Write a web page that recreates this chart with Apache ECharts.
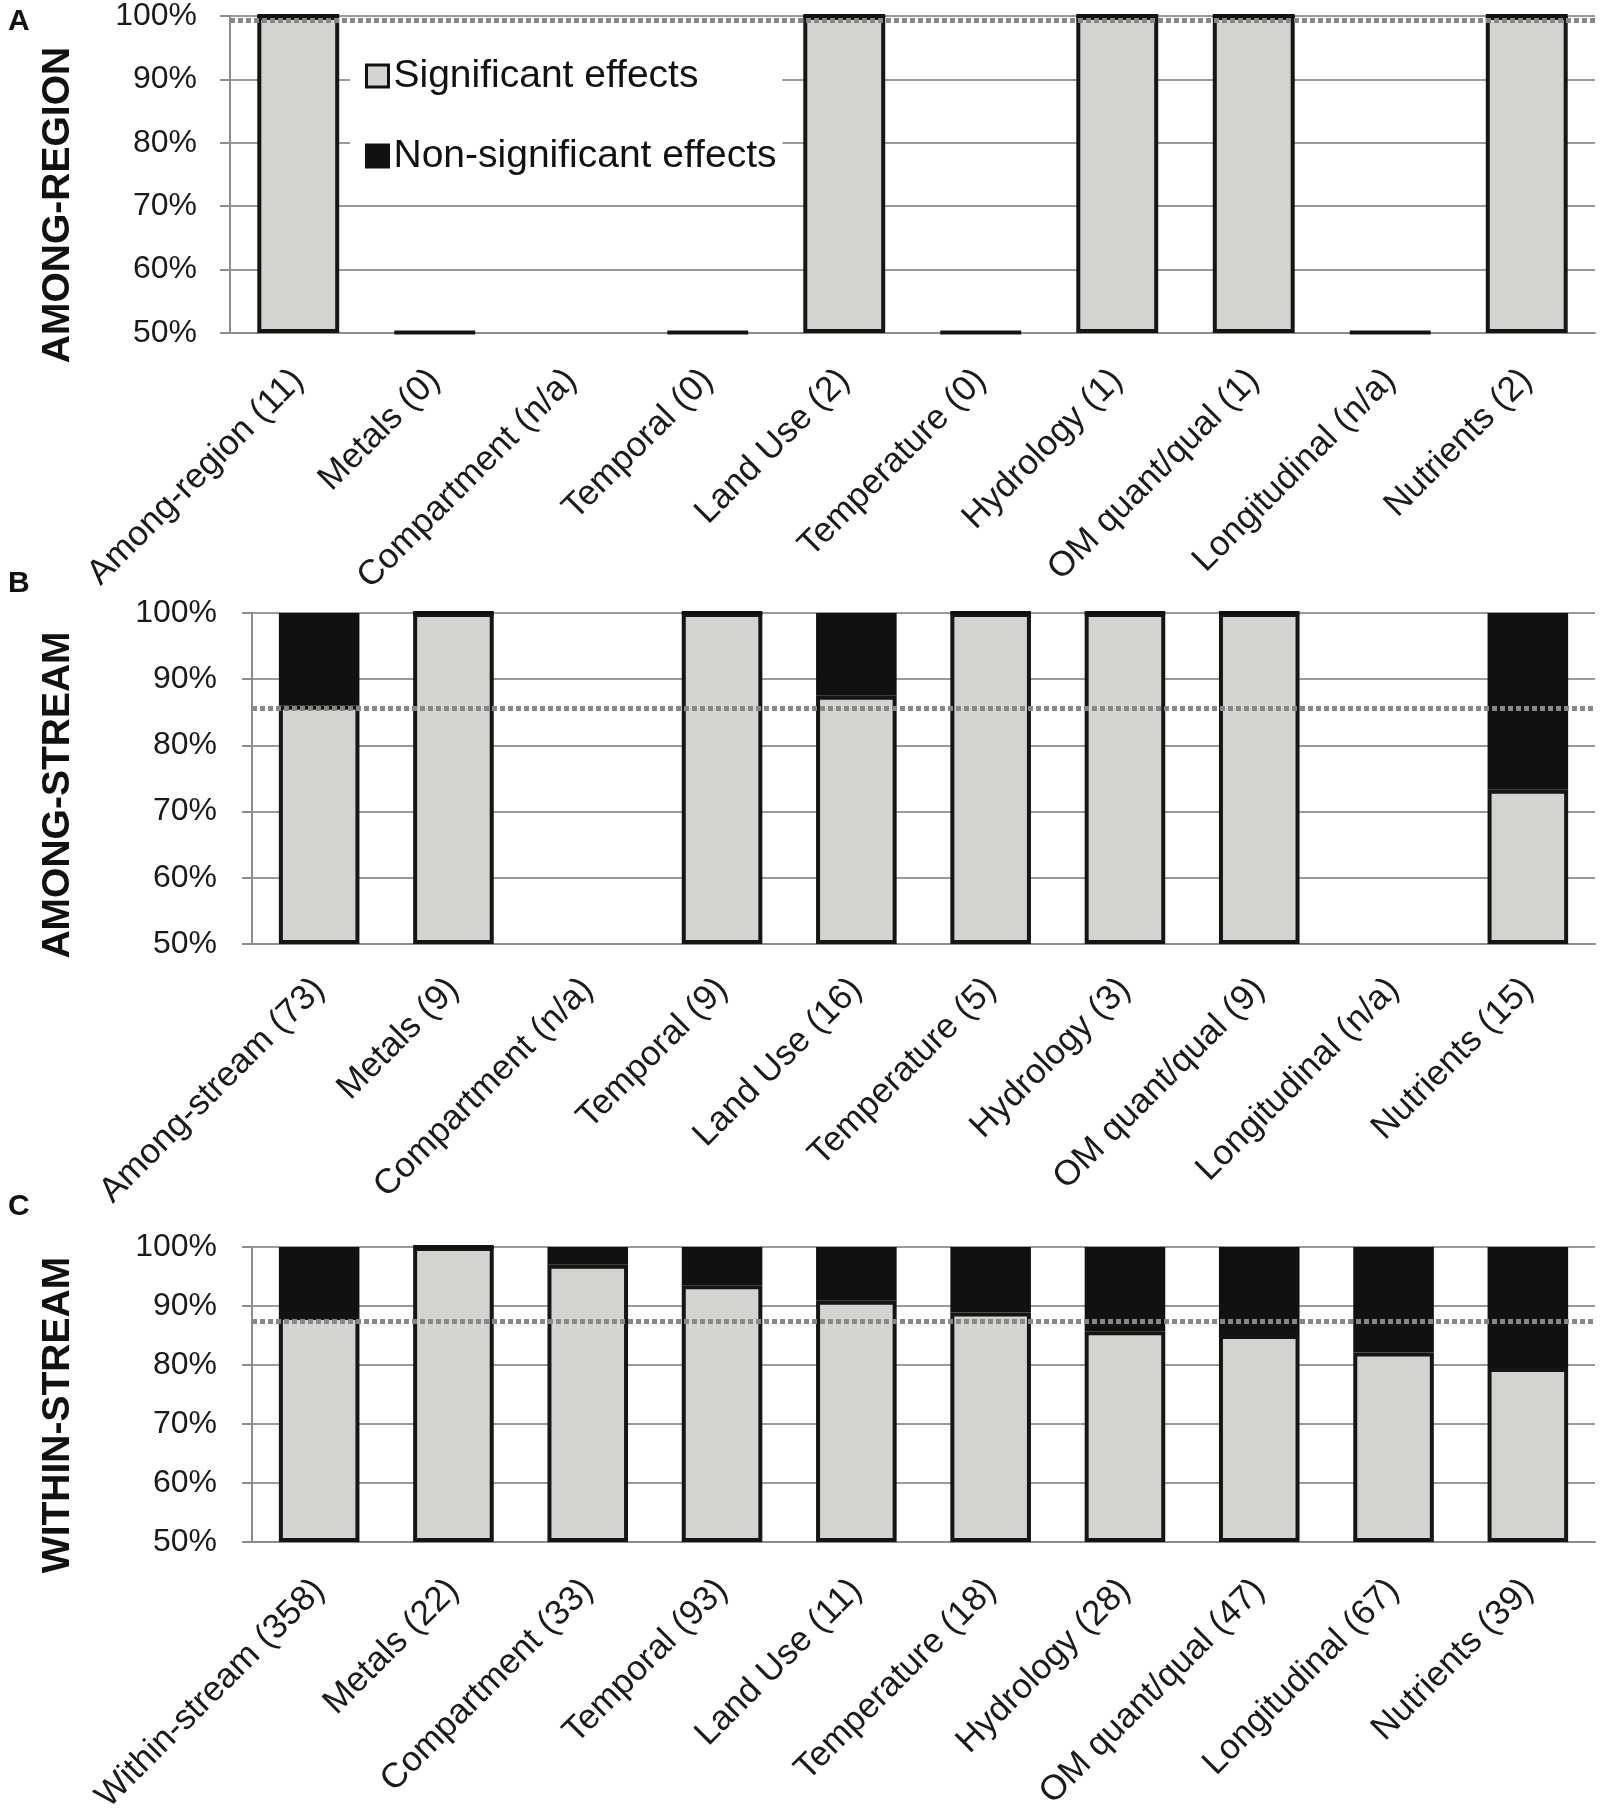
<!DOCTYPE html>
<html>
<head>
<meta charset="utf-8">
<script src="https://cdn.jsdelivr.net/npm/echarts@6/dist/echarts.min.js"></script>
<style>
  html, body { margin: 0; padding: 0; background: #fff; }
  #chart { width: 1600px; height: 1817px; }
</style>
</head>
<body>
<div id="chart"></div>
<script>
// panel A: among-region
var catsA = ['Among-region (11)', 'Metals (0)', 'Compartment (n/a)', 'Temporal (0)', 'Land Use (2)',
    'Temperature (0)', 'Hydrology (1)', 'OM quant/qual (1)', 'Longitudinal (n/a)', 'Nutrients (2)'];
var sigA = [100, 50, null, 50, 100, 50, 100, 100, 50, 100];
var nonSigA = [0, null, null, null, 0, null, 0, 0, null, 0];
var refA = 99.4;

// panel B: among-stream
var catsB = ['Among-stream (73)', 'Metals (9)', 'Compartment (n/a)', 'Temporal (9)', 'Land Use (16)',
    'Temperature (5)', 'Hydrology (3)', 'OM quant/qual (9)', 'Longitudinal (n/a)', 'Nutrients (15)'];
var sigB = [86.0, 100, null, 100, 87.5, 100, 100, 100, null, 73.3];
var nonSigB = [14.0, 0, null, 0, 12.5, 0, 0, 0, null, 26.7];
var refB = 85.6;

// panel C: within-stream
var catsC = ['Within-stream (358)', 'Metals (22)', 'Compartment (33)', 'Temporal (93)', 'Land Use (11)',
    'Temperature (18)', 'Hydrology (28)', 'OM quant/qual (47)', 'Longitudinal (67)', 'Nutrients (39)'];
var sigC = [88.3, 100, 97.0, 93.5, 90.9, 88.9, 85.7, 85.1, 82.1, 79.5];
var nonSigC = [11.7, 0, 3.0, 6.5, 9.1, 11.1, 14.3, 14.9, 17.9, 20.5];
var refC = 87.5;

var yTicks = ['50%', '60%', '70%', '80%', '90%', '100%'];

var FONT = '"Liberation Sans", Arial, sans-serif';
var BASE = 50; // y axis starts at 50%

function shift(arr) {
    return arr.map(function (v) { return v == null ? null : v - BASE; });
}

var grids = [
    {left: 230, right: 5, top: 15, height: 318},
    {left: 252, right: 5, top: 613, height: 331},
    {left: 252, right: 5, top: 1247, height: 295}
];
var panels = [
    {cats: catsA, sig: sigA, non: nonSigA, ref: refA, yMargin: 33, xMargin: 42},
    {cats: catsB, sig: sigB, non: nonSigB, ref: refB, yMargin: 35, xMargin: 40},
    {cats: catsC, sig: sigC, non: nonSigC, ref: refC, yMargin: 35, xMargin: 43}
];

var xAxes = [], yAxes = [], series = [];
panels.forEach(function (p, i) {
    xAxes.push({
        type: 'category',
        gridIndex: i,
        data: p.cats,
        axisLine: {lineStyle: {color: '#8c8c8c', width: 2}},
        axisTick: {length: 11, lineStyle: {color: '#8c8c8c', width: 2}},
        axisLabel: {
            interval: 0, rotate: 45, margin: p.xMargin,
            fontSize: 35, color: '#1a1a1a', fontFamily: FONT
        }
    });
    yAxes.push({
        type: 'value',
        gridIndex: i,
        min: 0, max: 50, interval: 10,
        axisLine: {show: true, lineStyle: {color: '#8c8c8c', width: 2}},
        axisTick: {show: true, length: 10, lineStyle: {color: '#8c8c8c', width: 2}},
        splitLine: {lineStyle: {color: '#9a9a9a', width: 2}},
        axisLabel: {
            margin: p.yMargin, fontSize: 32, color: '#1a1a1a', fontFamily: FONT,
            formatter: function (v) { return yTicks[Math.round(v / 10)]; }
        }
    });
    series.push({
        name: 'Significant effects',
        type: 'bar',
        xAxisIndex: i, yAxisIndex: i,
        stack: 'p' + i,
        barWidth: '60%',
        barMinHeight: 1,
        clip: false,
        data: shift(p.sig),
        itemStyle: {color: '#d3d4cf', borderColor: '#151515', borderWidth: 4},
        markLine: {
            silent: true,
            symbol: ['none', 'none'],
            label: {show: false},
            lineStyle: {color: '#878787', width: 5, type: [5, 3]},
            data: [{yAxis: p.ref - BASE}]
        }
    });
    series.push({
        name: 'Non-significant effects',
        type: 'bar',
        xAxisIndex: i, yAxisIndex: i,
        stack: 'p' + i,
        barWidth: '60%',
        data: p.non,
        itemStyle: {color: '#111111', borderColor: '#111111', borderWidth: 4}
    });
});

function vText(txt, x, y) {
    return {
        type: 'text', x: x, y: y, rotation: Math.PI / 2,
        style: {
            text: txt, fontSize: 39, fontWeight: 'bold', fontFamily: FONT,
            fill: '#111', align: 'center', verticalAlign: 'middle'
        }
    };
}
function letter(txt, x, y) {
    return {
        type: 'text', x: x, y: y,
        style: {text: txt, fontSize: 30, fontWeight: 'bold', fontFamily: FONT, fill: '#111'}
    };
}

var myChart = echarts.init(document.getElementById('chart'));
myChart.setOption({
    backgroundColor: '#fff',
    animation: false,
    textStyle: {fontFamily: FONT},
    grid: grids,
    xAxis: xAxes,
    yAxis: yAxes,
    legend: {
        orient: 'vertical',
        left: 350, top: 46,
        backgroundColor: '#fff',
        padding: [10, 6, 10, 15],
        itemGap: 40,
        itemWidth: 22, itemHeight: 22,
        textStyle: {fontSize: 39, lineHeight: 40, color: '#111', fontFamily: FONT},
        data: [
            {name: 'Significant effects', icon: 'rect',
             itemStyle: {color: '#d3d4cf', borderColor: '#111', borderWidth: 3}},
            {name: 'Non-significant effects', icon: 'rect',
             itemStyle: {color: '#111', borderColor: '#111', borderWidth: 3}}
        ]
    },
    graphic: [
        letter('A', 8, 7),
        letter('B', 8, 569),
        letter('C', 8, 1192),
        vText('AMONG-REGION', 58, 205),
        vText('AMONG-STREAM', 58, 795),
        vText('WITHIN-STREAM', 58, 1415)
    ],
    series: series
});
</script>
</body>
</html>
